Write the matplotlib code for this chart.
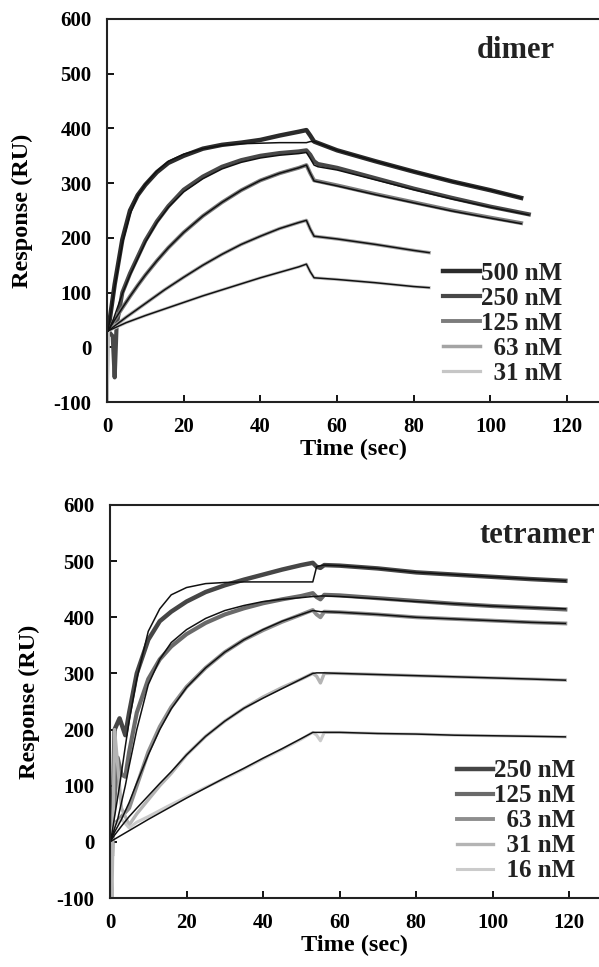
import matplotlib
matplotlib.use("Agg")
import matplotlib.pyplot as plt

plt.rcParams['font.family'] = ['Liberation Serif', 'DejaVu Serif']
plt.rcParams['font.weight'] = 'bold'
plt.rcParams['axes.unicode_minus'] = False

# ---- dimer panel: sensorgram data and fits (time in sec, response in RU)
dimer_labels = ["500 nM", "250 nM", "125 nM", "\u200763 nM", "\u200731 nM"]
dimer_colors = ["#2b2b2b", "#484848", "#7c7c7c", "#a4a4a4", "#c6c6c6"]
dimer_lw = [3.2, 3.0, 2.8, 2.5, 2.3]

d500_t = [0.3, 2, 4, 6, 8, 10, 13, 16, 20, 25, 30, 35, 40, 45, 50, 52, 53, 54, 60, 70, 80, 90, 100, 108]
d500_y = [30, 115, 197, 250, 278, 297, 320, 337, 350, 363, 370, 374, 379, 387, 394, 397, 387, 376, 360, 340, 321, 303, 287, 273]
d500_fit = [30, 110, 190, 243, 277, 298, 322, 340, 353, 363, 369, 372, 373, 374, 374, 374, 376, 376, 360, 340, 321, 303, 287, 273]

d250_t = [0.3, 1.5, 2, 2.5, 4, 6, 8, 10, 13, 16, 20, 25, 30, 35, 40, 45, 50, 52, 53, 54, 55, 60, 70, 80, 90, 100, 110]
d250_y = [30, 20, -55, 40, 100, 135, 165, 195, 230, 258, 288, 312, 330, 342, 350, 355, 358, 360, 352, 340, 335, 328, 309, 290, 273, 257, 243]
d250_fit = [30, 48, 58, 68, 98, 132, 162, 192, 228, 256, 284, 308, 326, 338, 346, 351, 354, 356, 345, 333, 330, 324, 306, 288, 271, 256, 242]

d125_t = [0.3, 2, 4, 6, 8, 10, 13, 16, 20, 25, 30, 35, 40, 45, 50, 52, 53, 54, 60, 70, 80, 90, 100, 108]
d125_y = [30, 50, 72, 93, 113, 132, 158, 182, 210, 240, 265, 287, 305, 318, 328, 333, 318, 305, 296, 280, 265, 250, 237, 227]
d125_fit = [30, 50, 72, 93, 113, 132, 158, 182, 210, 240, 265, 287, 305, 318, 328, 333, 318, 304, 295, 279, 264, 249, 236, 226]

d63_t = [0, 0.3, 5, 10, 15, 20, 25, 30, 35, 40, 45, 50, 52, 53, 54, 60, 70, 80, 84]
d63_y = [-100, 30, 55, 80, 105, 128, 150, 170, 188, 203, 217, 228, 232, 216, 203, 198, 188, 177, 173]
d63_fit = [30, 30, 55, 80, 105, 128, 150, 170, 188, 203, 217, 228, 232, 216, 203, 198, 188, 177, 173]

d31_t = [0, 0.3, 5, 10, 15, 20, 25, 30, 35, 40, 45, 50, 52, 53, 54, 60, 70, 80, 84]
d31_y = [-100, 30, 45, 58, 70, 82, 94, 105, 116, 127, 137, 147, 152, 138, 127, 124, 118, 111, 109]
d31_fit = [30, 30, 45, 58, 70, 82, 94, 105, 116, 127, 137, 147, 152, 138, 127, 124, 118, 111, 109]

dimer_t = [d500_t, d250_t, d125_t, d63_t, d31_t]
dimer_y = [d500_y, d250_y, d125_y, d63_y, d31_y]
dimer_fit = [d500_fit, d250_fit, d125_fit, d63_fit, d31_fit]

# ---- tetramer panel
tet_labels = ["250 nM", "125 nM", "\u200763 nM", "\u200731 nM", "\u200716 nM"]
tet_colors = ["#464646", "#6a6a6a", "#8e8e8e", "#b4b4b4", "#cbcbcb"]
tet_lw = [3.2, 3.0, 2.8, 2.4, 2.2]

t250_t = [0, 0.5, 1.2, 2.5, 4, 5, 7, 10, 13, 16, 20, 25, 30, 35, 40, 45, 50, 53, 54, 55, 56, 60, 70, 80, 90, 100, 110, 119]
t250_y = [0, -25, 200, 220, 190, 230, 300, 360, 393, 410, 428, 445, 457, 467, 476, 485, 493, 497, 490, 488, 493, 492, 487, 480, 476, 472, 468, 465]
t250_fit = [0, 15, 45, 100, 170, 215, 290, 375, 415, 440, 453, 460, 462, 463, 463, 463, 463, 463, 490, 492, 493, 492, 487, 480, 476, 472, 468, 465]

t125_t = [0, 1, 2, 3, 4, 5, 7, 10, 13, 16, 20, 25, 30, 35, 40, 45, 50, 53, 54, 55, 56, 60, 70, 80, 90, 100, 110, 119]
t125_y = [0, 60, 150, 120, 116, 160, 230, 290, 325, 348, 370, 390, 405, 416, 425, 432, 438, 443, 436, 432, 440, 439, 434, 429, 424, 420, 417, 414]
t125_fit = [0, 20, 40, 70, 100, 135, 200, 280, 325, 355, 378, 398, 412, 421, 428, 432, 435, 437, 437, 438, 438, 437, 433, 428, 424, 420, 417, 415]

t63_t = [0, 1, 3, 5, 7, 10, 13, 16, 20, 25, 30, 35, 40, 45, 50, 53, 54, 55, 56, 60, 70, 80, 90, 100, 110, 119]
t63_y = [0, 30, 45, 60, 100, 160, 205, 240, 276, 310, 338, 360, 377, 392, 405, 413, 405, 400, 410, 409, 405, 400, 397, 394, 391, 389]
t63_fit = [0, 15, 40, 70, 105, 155, 200, 237, 275, 310, 338, 360, 378, 393, 405, 412, 411, 410, 410, 409, 405, 400, 397, 394, 391, 389]

t31_t = [0, 0.5, 1.2, 3, 5, 7, 10, 13, 16, 20, 25, 30, 35, 40, 45, 50, 53, 54, 55, 56, 60, 70, 80, 90, 100, 110, 119]
t31_y = [0, -100, 200, 60, 30, 50, 75, 100, 122, 155, 188, 215, 238, 258, 275, 290, 300, 295, 283, 300, 300, 298, 296, 294, 292, 290, 288]
t31_fit = [0, 5, 12, 28, 45, 60, 82, 104, 125, 155, 188, 215, 238, 256, 273, 290, 300, 301, 301, 301, 300, 298, 296, 294, 292, 290, 288]

t16_t = [0, 1, 3, 5, 7, 10, 15, 20, 25, 30, 35, 40, 45, 50, 53, 54, 55, 56, 60, 70, 80, 90, 100, 110, 119]
t16_y = [0, 30, 40, 25, 35, 45, 63, 80, 97, 113, 130, 148, 165, 183, 195, 190, 180, 195, 195, 193, 192, 190, 189, 188, 187]
t16_fit = [0, 4, 12, 20, 28, 40, 59, 78, 96, 114, 131, 149, 166, 184, 195, 195, 195, 195, 195, 193, 192, 190, 189, 188, 187]

tet_t = [t250_t, t125_t, t63_t, t31_t, t16_t]
tet_y = [t250_y, t125_y, t63_y, t31_y, t16_y]
tet_fit = [t250_fit, t125_fit, t63_fit, t31_fit, t16_fit]


def draw_panel(ax, ts, ys, fits, labels, colors, widths, name, name_xy, xmax,
               leg_anchor, ylabelpad):
    handles = []
    for t, y, lab, c, w in zip(ts, ys, labels, colors, widths):
        h, = ax.plot(t, y, color=c, lw=w, solid_joinstyle='round', label=lab)
        handles.append(h)
    for t, f in zip(ts, fits):
        ax.plot(t, f, color='#111111', lw=1.1)

    ax.set_xlim(0, xmax)
    ax.set_ylim(-100, 600)
    ax.set_xticks(range(0, 121, 20))
    ax.set_yticks(range(-100, 601, 100))
    ax.tick_params(direction='in', length=5, width=1.3, labelsize=15)
    ax.tick_params(axis='x', pad=11)
    ax.tick_params(axis='y', pad=11)
    for lbl in ax.get_xticklabels() + ax.get_yticklabels():
        lbl.set_fontweight('bold')
    for s in ['left', 'top', 'bottom']:
        ax.spines[s].set_linewidth(1.5)
        ax.spines[s].set_color('#222222')
    ax.spines['right'].set_visible(False)

    ax.set_xlabel('Time (sec)', fontsize=17.5, fontweight='bold', labelpad=1)
    ax.set_ylabel('Response (RU)', fontsize=17.5, fontweight='bold', labelpad=ylabelpad)
    ax.text(name_xy[0], name_xy[1], name, transform=ax.transAxes, fontsize=22,
            fontweight='bold', ha='center', va='baseline', color='#222222')

    leg = ax.legend(handles=handles, loc='lower right', bbox_to_anchor=leg_anchor,
                    frameon=False, fontsize=18, handlelength=1.45, handletextpad=0.05,
                    labelspacing=0.08, borderpad=0, borderaxespad=0)
    for txt in leg.get_texts():
        txt.set_fontweight('bold')
        txt.set_color('#222222')


fig = plt.figure(figsize=(5.99, 9.67), dpi=100)
ax1 = fig.add_axes([107 / 599, 1 - 402 / 967, 1 - 107 / 599, 383 / 967])
ax2 = fig.add_axes([110 / 599, 1 - 898 / 967, 1 - 110 / 599, 393 / 967])

draw_panel(ax1, dimer_t, dimer_y, dimer_fit, dimer_labels, dimer_colors, dimer_lw,
           'dimer', (0.83, 0.898), 128.3, (0.925, 0.045), 15)
draw_panel(ax2, tet_t, tet_y, tet_fit, tet_labels, tet_colors, tet_lw,
           'tetramer', (0.873, 0.903), 127.8, (0.952, 0.04), 12)

fig.savefig('out.png', dpi=100)
